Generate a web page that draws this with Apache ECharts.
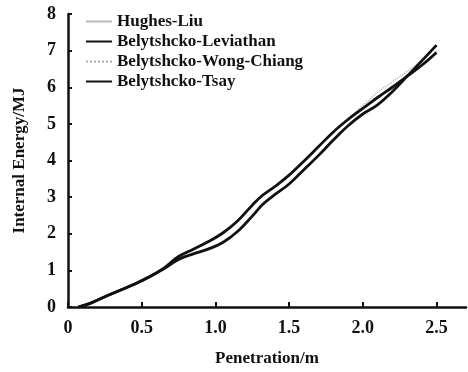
<!DOCTYPE html>
<html>
<head>
<meta charset="utf-8">
<script src="https://cdn.jsdelivr.net/npm/echarts@6/dist/echarts.min.js"></script>
<style>
  html, body { margin: 0; padding: 0; background: #fff; }
  #chart { width: 468px; height: 372px; }
</style>
</head>
<body>
<div id="chart"></div>
<script>
// penetration (m)
const penetration = [0.07, 0.15, 0.25, 0.35, 0.45, 0.55, 0.65, 0.75, 0.85, 0.95, 1.05, 1.15, 1.25, 1.32, 1.4, 1.5, 1.6, 1.7, 1.8, 1.9, 2.0, 2.1, 2.2, 2.3, 2.4, 2.5];
// internal energy (MJ)
const hughesLiu    = [0, 0.1, 0.28, 0.45, 0.62, 0.82, 1.05, 1.36, 1.56, 1.76, 2.0, 2.33, 2.76, 3.03, 3.27, 3.59, 3.97, 4.37, 4.77, 5.11, 5.41, 5.71, 6.0, 6.3, 6.62, 6.98];
const leviathan    = [0, 0.1, 0.28, 0.45, 0.62, 0.82, 1.06, 1.38, 1.58, 1.78, 2.02, 2.35, 2.78, 3.05, 3.28, 3.6, 3.98, 4.38, 4.78, 5.12, 5.42, 5.72, 6.0, 6.3, 6.6, 6.95];
const wongChiang   = [0, 0.1, 0.28, 0.45, 0.62, 0.82, 1.06, 1.37, 1.57, 1.77, 2.01, 2.34, 2.77, 3.04, 3.28, 3.6, 3.98, 4.38, 4.8, 5.16, 5.5, 5.86, 6.15, 6.43, 6.75, 7.15];
const tsay         = [0, 0.1, 0.28, 0.45, 0.62, 0.82, 1.04, 1.3, 1.45, 1.58, 1.76, 2.06, 2.48, 2.8, 3.06, 3.36, 3.75, 4.14, 4.56, 4.95, 5.27, 5.52, 5.88, 6.3, 6.72, 7.15];
const xTicks = [0, 0.5, 1, 1.5, 2, 2.5];
const yTicks = [0, 1, 2, 3, 4, 5, 6, 7, 8];

const font = '"Liberation Serif", "Times New Roman", serif';
const pair = ys => penetration.map((x, i) => [x, ys[i]]);

const chart = echarts.init(document.getElementById('chart'));
chart.setOption({
  animation: false,
  textStyle: { fontFamily: font },
  legend: {
    left: 80,
    top: 8,
    orient: 'vertical',
    itemWidth: 26,
    itemHeight: 10,
    itemGap: 3,
    itemStyle: { opacity: 0 },
    textStyle: { fontFamily: font, fontSize: 17, fontWeight: 'bold', color: '#111' },
    data: ['Hughes-Liu', 'Belytshcko-Leviathan', 'Belytshcko-Wong-Chiang', 'Belytshcko-Tsay']
  },
  grid: { left: 68, right: 2, top: 14, bottom: 62 },
  xAxis: {
    type: 'value',
    min: 0,
    max: 2.7,
    name: 'Penetration/m',
    nameLocation: 'middle',
    nameGap: 43,
    nameTextStyle: { fontFamily: font, fontSize: 17, fontWeight: 'bold', color: '#111' },
    axisLine: { lineStyle: { color: '#111', width: 2.5 } },
    axisTick: { inside: true, length: 5, lineStyle: { color: '#111', width: 2 }, customValues: xTicks },
    axisLabel: {
      customValues: xTicks,
      margin: 12,
      fontSize: 18, fontWeight: 'bold', color: '#111', fontFamily: font,
      formatter: v => v === 0 ? '0' : v.toFixed(1)
    },
    splitLine: { show: false }
  },
  yAxis: {
    type: 'value',
    min: 0,
    max: 8,
    interval: 1,
    name: 'Internal Energy/MJ',
    nameLocation: 'middle',
    nameGap: 40,
    nameTextStyle: { fontFamily: font, fontSize: 17, fontWeight: 'bold', color: '#111' },
    axisLine: { show: true, lineStyle: { color: '#111', width: 2.5 } },
    axisTick: { show: true, inside: true, length: 4, lineStyle: { color: '#111', width: 2 } },
    axisLabel: {
      margin: 12,
      fontSize: 18, fontWeight: 'bold', color: '#111', fontFamily: font,
      customValues: yTicks
    },
    splitLine: { show: false }
  },
  series: [
    {
      name: 'Hughes-Liu', type: 'line', smooth: 0.4, symbol: 'none',
      data: pair(hughesLiu),
      lineStyle: { color: '#b8b8b8', width: 1.2 }, itemStyle: { color: '#b8b8b8' }, z: 1
    },
    {
      name: 'Belytshcko-Leviathan', type: 'line', smooth: 0.4, symbol: 'none',
      data: pair(leviathan),
      lineStyle: { color: '#111', width: 2.8 }, itemStyle: { color: '#111' }, z: 3
    },
    {
      name: 'Belytshcko-Wong-Chiang', type: 'line', smooth: 0.4, symbol: 'none',
      data: pair(wongChiang),
      lineStyle: { color: '#aaa', width: 1.2, type: 'dotted' }, itemStyle: { color: '#aaa' }, z: 2
    },
    {
      name: 'Belytshcko-Tsay', type: 'line', smooth: 0.4, symbol: 'none',
      data: pair(tsay),
      lineStyle: { color: '#111', width: 2.8 }, itemStyle: { color: '#111' }, z: 3
    }
  ]
});
</script>
</body>
</html>
